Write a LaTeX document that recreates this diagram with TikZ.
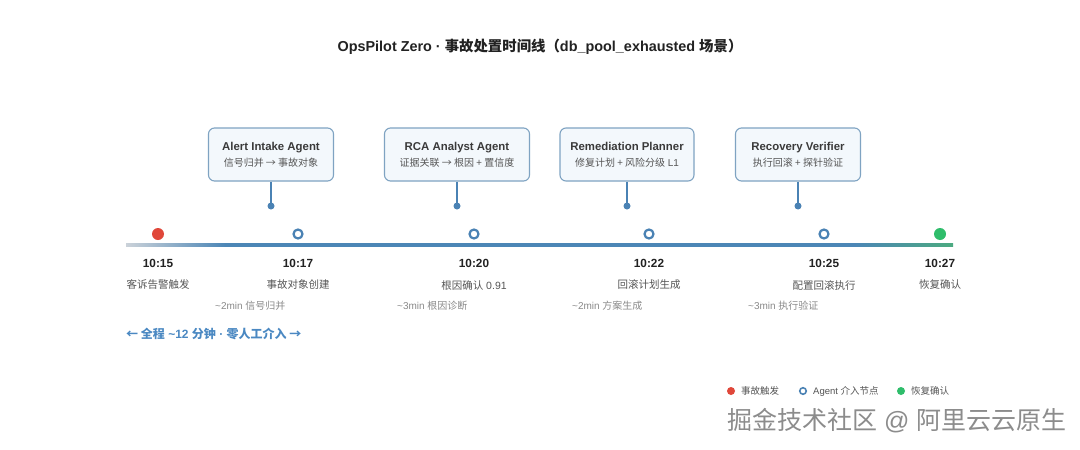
\documentclass[tikz,border=0pt]{standalone}
\usepackage{fontspec}
\setmainfont{Liberation Sans}
\newfontfamily\zhfont{Noto Sans CJK SC}
\newcommand\zhf[1]{{\zhfont #1}}

\definecolor{inkdark}{HTML}{222222}
\definecolor{inktext}{HTML}{3A3A3A}
\definecolor{inksoft}{HTML}{555555}
\definecolor{inkmute}{HTML}{8A8A8A}
\definecolor{agentblue}{HTML}{4A82B4}
\definecolor{boxedge}{HTML}{7FA3C2}
\definecolor{boxfill}{HTML}{F3F8FC}
\definecolor{alertred}{HTML}{E0473A}
\definecolor{okgreen}{HTML}{2FBD6B}
\definecolor{railgray}{HTML}{CBD2D9}
\definecolor{railblue}{HTML}{4C86B6}
\definecolor{railgreen}{HTML}{4CAA80}
\definecolor{totalblue}{HTML}{4A88C2}

% rail shading: grey start, blue body, green finish
\pgfdeclarehorizontalshading{railshade}{100bp}{%
  color(0bp)=(railgray); color(25bp)=(railgray); color(31bp)=(railblue);
  color(69bp)=(railblue); color(75bp)=(railgreen); color(100bp)=(railgreen)}

\begin{document}
\begin{tikzpicture}[x=1pt,y=-1pt,
  title/.style={font=\fontsize{14.4}{16}\selectfont\bfseries, text=inkdark},
  agentbox/.style={draw=boxedge, fill=boxfill, rounded corners=6pt, line width=1.1pt,
    minimum height=53pt, align=center, inner sep=0pt},
  pindot/.style={circle, fill=agentblue, minimum size=7pt, inner sep=0pt},
  conn/.style={draw=agentblue, line width=2pt},
  evdot/.style={circle, fill=#1, minimum size=12pt, inner sep=0pt},
  agdot/.style={circle, draw=agentblue, line width=2.2pt, fill=white, minimum size=9pt, inner sep=0pt},
  timelab/.style={font=\fontsize{11.8}{13}\selectfont\bfseries, text=inkdark},
  eventlab/.style={font=\fontsize{10.5}{12}\selectfont, text=inksoft},
  durlab/.style={anchor=west, font=\fontsize{10}{11}\selectfont, text=inkmute, inner sep=0pt},
  legdot/.style={circle, fill=#1, minimum size=8pt, inner sep=0pt},
  legring/.style={circle, draw=agentblue, line width=1.6pt, fill=white, minimum size=6.5pt, inner sep=0pt},
  legtext/.style={anchor=west, font=\fontsize{9.5}{11}\selectfont, text=inksoft, inner sep=0pt}
]
\useasboundingbox[fill=white] (0,0) rectangle (1080,450);

% heading
\node[title] (heading) at (540,47)
  {OpsPilot Zero · \zhf{事故处置时间线（}db\_pool\_exhausted \zhf{场景）}};

% agent cards
\node[agentbox, minimum width=125pt] (a1) at (271,154.5)
  {\fontsize{11.4}{13}\selectfont\bfseries\color{inktext}Alert Intake Agent\\[4pt]
   \fontsize{10}{12}\selectfont\color{inksoft}\zhf{信号归并 → 事故对象}};
\node[agentbox, minimum width=145pt] (a2) at (457,154.5)
  {\fontsize{11.4}{13}\selectfont\bfseries\color{inktext}RCA Analyst Agent\\[4pt]
   \fontsize{10}{12}\selectfont\color{inksoft}\zhf{证据关联 → 根因 + 置信度}};
\node[agentbox, minimum width=134pt] (a3) at (627,154.5)
  {\fontsize{11.4}{13}\selectfont\bfseries\color{inktext}Remediation Planner\\[4pt]
   \fontsize{10}{12}\selectfont\color{inksoft}\zhf{修复计划 + 风险分级} L1};
\node[agentbox, minimum width=125pt] (a4) at (798,154.5)
  {\fontsize{11.4}{13}\selectfont\bfseries\color{inktext}Recovery Verifier\\[4pt]
   \fontsize{10}{12}\selectfont\color{inksoft}\zhf{执行回滚 + 探针验证}};

% card stems
\node[pindot] (p1) at (271,206) {};
\node[pindot] (p2) at (457,206) {};
\node[pindot] (p3) at (627,206) {};
\node[pindot] (p4) at (798,206) {};
\draw[conn] (a1.south) -- (p1.center);
\draw[conn] (a2.south) -- (p2.center);
\draw[conn] (a3.south) -- (p3.center);
\draw[conn] (a4.south) -- (p4.center);

% time rail
\shade[shading=railshade] (126,243.7) rectangle (953,246.5);

% events on the rail
\node[evdot=alertred] (e0) at (158,234) {};
\node[agdot] (e1) at (298,234) {};
\node[agdot] (e2) at (474,234) {};
\node[agdot] (e3) at (649,234) {};
\node[agdot] (e4) at (824,234) {};
\node[evdot=okgreen] (e5) at (940,234) {};

% times
\node[timelab] (t0) at (158,263) {10:15};
\node[timelab] (t1) at (298,263) {10:17};
\node[timelab] (t2) at (474,263) {10:20};
\node[timelab] (t3) at (649,263) {10:22};
\node[timelab] (t4) at (824,263) {10:25};
\node[timelab] (t5) at (940,263) {10:27};

% event captions
\node[eventlab] (c0) at (158,285) {\zhf{客诉告警触发}};
\node[eventlab] (c1) at (298,285) {\zhf{事故对象创建}};
\node[eventlab] (c2) at (474,285) {\zhf{根因确认} 0.91};
\node[eventlab] (c3) at (649,285) {\zhf{回滚计划生成}};
\node[eventlab] (c4) at (824,285) {\zhf{配置回滚执行}};
\node[eventlab] (c5) at (940,285) {\zhf{恢复确认}};

% step durations
\node[durlab] (u1) at (215,306) {\textasciitilde 2min \zhf{信号归并}};
\node[durlab] (u2) at (397,306) {\textasciitilde 3min \zhf{根因诊断}};
\node[durlab] (u3) at (572,306) {\textasciitilde 2min \zhf{方案生成}};
\node[durlab] (u4) at (748,306) {\textasciitilde 3min \zhf{执行验证}};

% overall span
\node[anchor=west, inner sep=0pt, text=totalblue, font=\fontsize{12}{14}\selectfont\bfseries] (span) at (126,334)
  {\zhf{← 全程} \textasciitilde 12 \zhf{分钟} · \zhf{零人工介入 →}};

% legend
\node[legdot=alertred] (k1) at (731,391) {};
\node[legtext] (k1t) at (741,391) {\zhf{事故触发}};
\node[legring] (k2) at (803,391) {};
\node[legtext] (k2t) at (813,391) {Agent \zhf{介入节点}};
\node[legdot=okgreen] (k3) at (901,391) {};
\node[legtext] (k3t) at (911,391) {\zhf{恢复确认}};

% site mark
\node[anchor=west, inner sep=0pt, text=black!45, font=\fontsize{25}{28}\selectfont] (mark) at (727,421)
  {\zhf{掘金技术社区} @ \zhf{阿里云云原生}};
\end{tikzpicture}
\end{document}
